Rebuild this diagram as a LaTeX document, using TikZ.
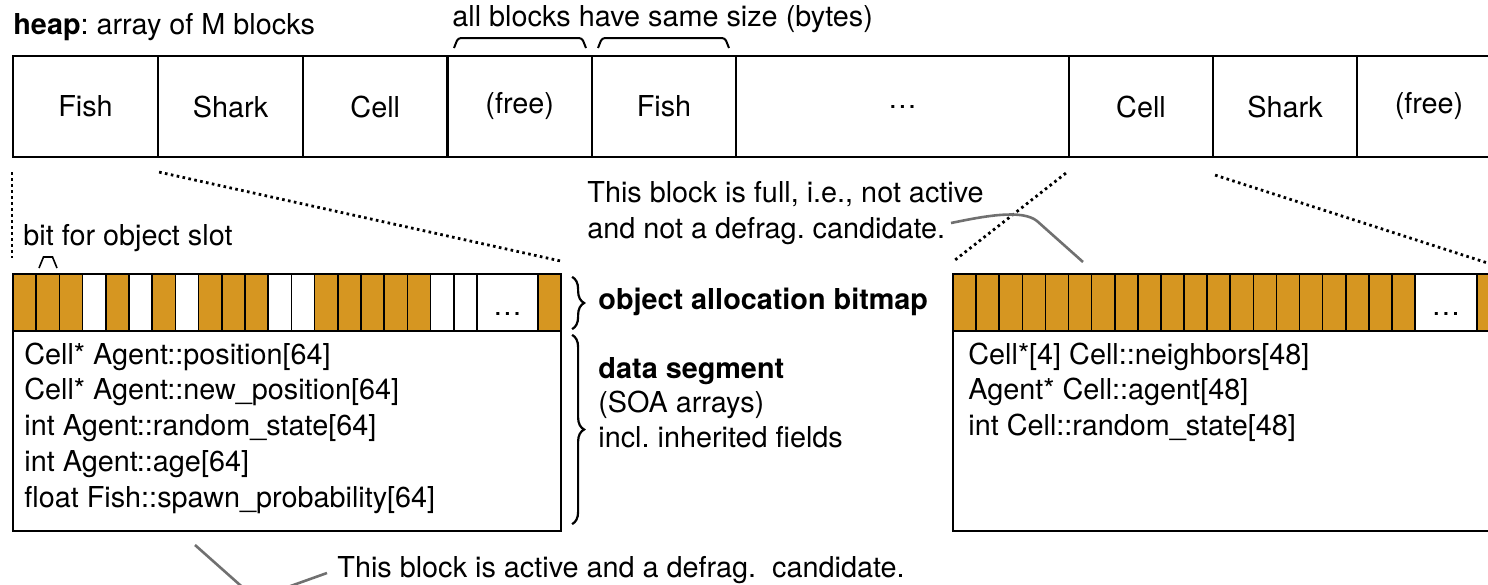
\documentclass[tikz,border=0pt]{standalone}
\usepackage{fontspec}
\setmainfont{TeX Gyre Heros}
\usetikzlibrary{calc,decorations.pathreplacing}
\definecolor{bitorange}{RGB}{214,150,33}
\definecolor{leader}{RGB}{112,112,112}
\frenchspacing
\begin{document}
\begin{tikzpicture}[x=0.5pt,y=-0.5pt,
  font=\fontsize{14.4}{17}\selectfont,
  blk/.style={draw, line width=1.1pt, minimum height=50.5pt, inner sep=0pt, anchor=center},
  txt/.style={anchor=base west, inner sep=0pt},
  boxframe/.style={draw, line width=1.1pt, inner sep=0pt},
  bon/.style={fill=bitorange, draw, line width=0.8pt},
  boff/.style={fill=white, draw, line width=0.8pt},
  dotline/.style={line width=1.4pt, dash pattern=on 1.3pt off 1.7pt},
  lead/.style={draw=leader, line width=1.3pt},
  bracket/.style={line width=1pt, rounded corners=1.5pt},
  curly/.style={line width=1.1pt, decorate, decoration={brace, amplitude=6pt}},
]
\useasboundingbox (0,0) rectangle (1488,584);

% heading texts
\node[txt] (title) at (13,34) {\textbf{heap}: array of M blocks};
\node[txt] (same) at (452,26) {all blocks have same size (bytes)};
\draw[bracket] (454,48) -- (458,38) -- (582,38) -- (586,48);
\draw[bracket] (598,48) -- (602,38) -- (725,38) -- (729,48);

% heap blocks
\node[blk, minimum width=72.5pt]  (h1) at (85.5,106.5) {Fish};
\node[blk, minimum width=72.5pt]  (h2) at (230.5,106.5) {Shark};
\node[blk, minimum width=72.25pt] (h3) at (375.25,106.5) {Cell};
\node[blk, minimum width=72.25pt] (h4) at (519.75,106.5) {(free)};
\node[blk, minimum width=72pt]    (h5) at (664,106.5) {Fish};
\node[blk, minimum width=166.5pt] (h6) at (902.5,106.5) {\dots};
\node[blk, minimum width=72pt]    (h7) at (1141,106.5) {Cell};
\node[blk, minimum width=72pt]    (h8) at (1285,106.5) {Shark};
\node[blk, minimum width=72pt]    (h9) at (1429,106.5) {(free)};

% left bitmap
\foreach \s [count=\i from 0] in {bon,bon,bon,boff,bon,boff,bon,boff,bon,bon,bon,boff,boff,bon,bon,bon,bon,bon,boff,boff} {
  \pgfmathsetmacro\xa{13+23.2*\i}
  \path[\s] (\xa,274) rectangle ++(23.2,57);
}
\path[boff] (477,274) rectangle (538,331);
\path[bon] (538,274) rectangle (561,331);
\node[boxframe, minimum width=274pt, minimum height=28.5pt] (bmL) at (287,302.5) {};
\node[anchor=base, inner sep=0pt] (dotsL) at (507.5,315) {\dots};
\node[boxframe, minimum width=274pt, minimum height=100pt] (dsL) at (287,431) {};

% right bitmap
\foreach \i in {0,...,19} {
  \pgfmathsetmacro\xa{953+23.1*\i}
  \path[bon] (\xa,274) rectangle ++(23.1,57);
}
\path[boff] (1415,274) rectangle (1477,331);
\path[bon] (1477,274) rectangle (1500,331);
\path[bon] (1500,274) rectangle (1523,331);
\node[boxframe, minimum width=286pt, minimum height=28.5pt] (bmR) at (1239,302.5) {};
\node[anchor=base, inner sep=0pt] (dotsR) at (1446,315) {\dots};
\node[boxframe, minimum width=286pt, minimum height=100pt] (dsR) at (1239,431) {};

% dotted zoom lines
\coordinate (farR) at (1500,267);
\draw[dotline] ($(h1.south west)+(0,14)$) -- ($(bmL.north west)+(0,-15)$);
\draw[dotline] ($(h1.south east)+(0,14)$) -- ($(bmL.north east)+(-2,-12)$);
\draw[dotline] ($(h7.south west)+(-2,15)$) -- ($(bmR.north west)+(2,-12)$);
\draw[dotline] ($(h7.south east)+(1,17)$) -- (farR);

% bit label
\node[txt] (bitlbl) at (23,245) {bit for object slot};
\draw[line width=0.8pt] (39,268) -- (43.5,257) -- (52.5,257) -- (57,268);

% left data segment text
\node[txt] (d1) at (24,364) {Cell* Agent::position[64]};
\node[txt] (d2) at (24,399.75) {Cell* Agent::new\_position[64]};
\node[txt] (d3) at (24,435.5) {int Agent::random\_state[64]};
\node[txt] (d4) at (24,471.25) {int Agent::age[64]};
\node[txt] (d5) at (24,507) {float Fish::spawn\_probability[64]};

% right data segment text
\node[txt] (e1) at (968,364) {Cell*[4] Cell::neighbors[48]};
\node[txt] (e2) at (968,399.75) {Agent* Cell::agent[48]};
\node[txt] (e3) at (968,435.5) {int Cell::random\_state[48]};

% braces and their labels
\draw[curly] ($(bmL.north east)+(10,4)$) -- ($(bmL.south east)+(10,-3)$);
\draw[curly] ($(dsL.north east)+(10,5)$) -- ($(dsL.south east)+(10,-8)$);
\node[txt] (lblbm) at (598,309) {\textbf{object allocation bitmap}};
\node[txt] (lblds1) at (598,378) {\textbf{data segment}};
\node[txt] (lblds2) at (598,412) {(SOA arrays)};
\node[txt] (lblds3) at (598,447) {incl. inherited fields};

% captions
\node[txt] (capA1) at (587,202) {This block is full, i.e., not active};
\node[txt] (capA2) at (587,238) {and not a defrag. candidate.};
\node[txt] (capB) at (337,577) {This block is active and a defrag.\ \ candidate.};

% leader lines
\coordinate (la) at (951,223);
\coordinate (lb) at (1083,262);
\draw[lead] (la) .. controls (985,216) and (1022,209) .. (1037,221) -- (lb);
\coordinate (lc) at (327,573);
\coordinate (ld) at (195,545);
\draw[lead] (lc) -- (285,588) .. controls (265,595) and (250,594) .. (240,585) -- (ld);
\end{tikzpicture}
\end{document}
